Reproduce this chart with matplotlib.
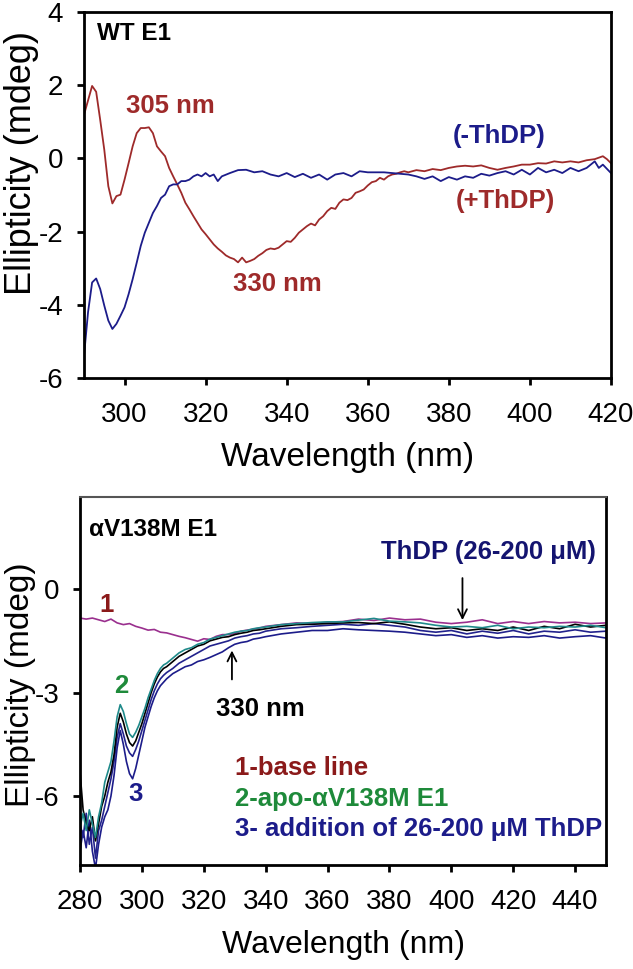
import matplotlib
matplotlib.use('Agg')
import matplotlib.pyplot as plt
import numpy as np

plt.rcParams['font.family'] = ['Liberation Sans', 'DejaVu Sans']
plt.rcParams['axes.unicode_minus'] = False

# ---- top panel: WT E1 ----
wl_plus = [290, 292, 293, 294, 295, 296, 297, 298, 299, 300, 301, 302, 303, 304, 305, 306, 307, 308, 309,
           310, 311, 312, 313, 314, 315, 316, 317, 318, 319, 320, 321, 322, 323, 324, 325, 326, 327, 328,
           329, 330, 331, 332, 333, 334, 335, 336, 337, 338, 339, 340, 341, 342, 343, 344, 345, 346, 347,
           348, 349, 350, 351, 352, 353, 354, 355, 356, 357, 358, 359, 360, 361, 362, 363, 364, 365, 366,
           367, 368, 369, 370, 372, 374, 376, 378, 380, 382, 384, 386, 388, 390, 392, 394, 396, 398, 400,
           402, 404, 406, 408, 410, 412, 414, 416, 418, 419, 420]
cd_plus = [1.19, 1.98, 1.82, 1.05, 0.24, -0.76, -1.23, -1.03, -0.99, -0.58, -0.13, 0.33, 0.69, 0.83, 0.83,
           0.85, 0.69, 0.33, 0.19, 0.06, -0.26, -0.49, -0.71, -0.94, -1.21, -1.39, -1.58, -1.76, -1.94,
           -2.07, -2.21, -2.35, -2.46, -2.55, -2.65, -2.71, -2.75, -2.84, -2.71, -2.84, -2.80, -2.75, -2.66,
           -2.59, -2.50, -2.46, -2.48, -2.44, -2.35, -2.26, -2.28, -2.17, -2.03, -1.94, -1.85, -1.78, -1.83,
           -1.67, -1.58, -1.44, -1.35, -1.38, -1.21, -1.12, -1.14, -1.08, -0.94, -0.90, -0.85, -0.74, -0.65,
           -0.62, -0.53, -0.58, -0.49, -0.44, -0.42, -0.38, -0.35, -0.38, -0.32, -0.35, -0.29, -0.32, -0.26,
           -0.22, -0.20, -0.22, -0.19, -0.26, -0.31, -0.26, -0.22, -0.17, -0.17, -0.13, -0.14, -0.08, -0.11,
           -0.08, -0.11, -0.05, -0.02, 0.06, -0.02, -0.13]

wl_minus = [290, 291, 292, 293, 294, 295, 296, 297, 298, 299, 300, 301, 302, 303, 304, 305, 306, 307, 308,
            309, 310, 311, 312, 313, 314, 315, 316, 317, 318, 319, 320, 321, 322, 323, 324, 326, 328, 330,
            332, 334, 336, 338, 340, 342, 344, 346, 348, 350, 352, 354, 356, 358, 360, 362, 364, 366, 368,
            370, 372, 374, 376, 378, 380, 382, 384, 386, 388, 390, 392, 394, 396, 398, 400, 402, 404, 406,
            408, 410, 412, 414, 416, 417, 418, 420]
cd_minus = [-5.40, -4.20, -3.39, -3.28, -3.57, -4.02, -4.43, -4.66, -4.52, -4.30, -4.07, -3.71, -3.30, -2.85,
            -2.39, -2.03, -1.76, -1.49, -1.30, -1.08, -0.99, -0.76, -0.71, -0.71, -0.62, -0.62, -0.58, -0.49,
            -0.44, -0.49, -0.40, -0.49, -0.44, -0.62, -0.49, -0.40, -0.32, -0.31, -0.38, -0.35, -0.44, -0.49,
            -0.40, -0.51, -0.42, -0.53, -0.44, -0.58, -0.44, -0.40, -0.49, -0.35, -0.38, -0.38, -0.38, -0.40,
            -0.42, -0.44, -0.49, -0.56, -0.49, -0.62, -0.51, -0.58, -0.49, -0.53, -0.42, -0.47, -0.40, -0.35,
            -0.44, -0.31, -0.44, -0.26, -0.38, -0.31, -0.40, -0.26, -0.35, -0.26, -0.08, -0.26, -0.17, -0.40]

# ---- bottom panel: aV138M E1 ----
wl_base = [280, 282, 284, 286, 288, 290, 292, 294, 296, 298, 300, 302, 304, 306, 308, 310, 312, 314, 316,
           318, 320, 322, 324, 326, 328, 330, 332, 334, 336, 338, 340, 345, 350, 355, 360, 365, 370, 375,
           380, 385, 390, 395, 400, 405, 410, 415, 420, 425, 430, 435, 440, 445, 450]
cd_base = [-0.84, -0.87, -0.84, -0.89, -0.94, -0.87, -0.98, -1.03, -1.00, -1.08, -1.13, -1.19, -1.17, -1.25,
           -1.27, -1.32, -1.37, -1.41, -1.46, -1.51, -1.44, -1.46, -1.37, -1.32, -1.32, -1.29, -1.22, -1.19,
           -1.16, -1.13, -1.08, -1.03, -0.98, -1.00, -0.96, -0.94, -0.87, -0.91, -0.84, -0.89, -0.87, -0.96,
           -1.00, -0.96, -0.89, -1.00, -0.94, -1.00, -0.94, -0.98, -0.96, -1.00, -0.98]

wl_scan = [280, 281, 282, 283, 284, 285, 286, 287, 288, 289, 290, 291, 292, 293, 294, 295, 296, 297, 298,
           299, 300, 301, 302, 303, 304, 305, 306, 307, 308, 310, 312, 314, 316, 318, 320, 322, 324, 326,
           328, 330, 332, 334, 336, 338, 340, 345, 350, 355, 360, 365, 370, 375, 380, 385, 390, 395, 400,
           405, 410, 415, 420, 425, 430, 435, 440, 445, 450]
cd_apo = [-6.9, -6.5, -7.0, -6.4, -6.8, -7.2, -6.6, -6.2, -5.6, -5.3, -5.0, -4.4, -3.7, -3.35, -3.55, -3.9,
          -4.2, -4.3, -4.15, -3.95, -3.7, -3.45, -3.15, -2.9, -2.65, -2.45, -2.3, -2.2, -2.15, -2.0, -1.85,
          -1.75, -1.7, -1.6, -1.55, -1.45, -1.4, -1.35, -1.3, -1.25, -1.22, -1.2, -1.15, -1.12, -1.1, -1.03,
          -1.0, -0.97, -0.95, -0.95, -0.9, -0.85, -0.93, -0.95, -0.98, -1.05, -1.1, -1.08, -1.12, -1.05,
          -1.15, -1.1, -1.12, -1.08, -1.1, -1.05, -1.12]
cd_thdp1 = [-5.3, -6.4, -6.8, -7.0, -6.6, -7.3, -6.8, -6.3, -6.0, -5.6, -5.3, -4.8, -4.0, -3.6, -3.85, -4.2,
            -4.45, -4.55, -4.4, -4.15, -3.9, -3.6, -3.3, -3.0, -2.75, -2.55, -2.4, -2.3, -2.25, -2.1, -1.95,
            -1.85, -1.75, -1.65, -1.6, -1.5, -1.45, -1.4, -1.38, -1.32, -1.28, -1.25, -1.2, -1.18, -1.15,
            -1.08, -1.03, -1.02, -1.0, -0.98, -0.97, -1.0, -0.95, -1.02, -1.1, -1.15, -1.12, -1.2, -1.15,
            -1.2, -1.1, -1.2, -1.08, -1.15, -1.02, -1.1, -1.05]
cd_thdp2 = [-6.8, -7.2, -6.5, -7.4, -6.9, -7.8, -7.0, -6.7, -6.3, -5.9, -5.5, -5.0, -4.3, -3.9, -4.2, -4.55,
            -4.75, -4.85, -4.65, -4.4, -4.1, -3.8, -3.5, -3.2, -2.95, -2.75, -2.6, -2.5, -2.42, -2.3, -2.15,
            -2.05, -1.95, -1.85, -1.75, -1.65, -1.6, -1.55, -1.5, -1.42, -1.38, -1.35, -1.3, -1.28, -1.22,
            -1.15, -1.12, -1.08, -1.05, -1.02, -1.05, -1.0, -1.05, -1.1, -1.2, -1.25, -1.2, -1.3, -1.22,
            -1.28, -1.2, -1.3, -1.22, -1.25, -1.18, -1.25, -1.22]
cd_thdp3 = [-7.6, -7.0, -7.5, -6.7, -7.6, -8.1, -7.4, -6.9, -6.6, -6.4, -6.0, -5.4, -4.6, -4.1, -4.5, -5.0,
            -5.35, -5.5, -5.2, -4.8, -4.4, -4.0, -3.7, -3.4, -3.15, -2.95, -2.8, -2.7, -2.6, -2.45, -2.35,
            -2.25, -2.2, -2.1, -2.05, -1.98, -1.9, -1.82, -1.7, -1.6, -1.55, -1.52, -1.45, -1.42, -1.38,
            -1.3, -1.25, -1.2, -1.2, -1.15, -1.18, -1.2, -1.22, -1.25, -1.3, -1.35, -1.32, -1.4, -1.35,
            -1.42, -1.38, -1.4, -1.35, -1.42, -1.38, -1.35, -1.42]

red = '#9e2a2a'
navy = '#1c1c8a'
fs = 18.5

fig = plt.figure(figsize=(6.33, 9.69), dpi=100)
ax1 = fig.add_axes([0.1327, 0.6099, 0.8325, 0.3777])
ax2 = fig.add_axes([0.1264, 0.1073, 0.8310, 0.3798])

for ax in (ax1, ax2):
    for s in ax.spines.values():
        s.set_linewidth(2.0)
    ax.tick_params(direction='out', length=5, width=2, labelsize=20, top=False, right=False)
    ax.tick_params(axis='x', pad=12)
    ax.tick_params(axis='y', pad=10)

# top
ax1.plot(wl_plus, cd_plus, color=red, lw=1.3)
ax1.plot(wl_minus, cd_minus, color=navy, lw=1.3)
ax1.set_xlim(290, 420)
ax1.set_ylim(-6, 4)
ax1.set_xticks(np.arange(300, 421, 20))
ax1.set_yticks(np.arange(-6, 5, 2))
ax1.set_xlabel('Wavelength (nm)', fontsize=24, labelpad=10)
ax1.set_ylabel('Ellipticity (mdeg)', fontsize=26)
ax1.yaxis.set_label_coords(-0.085, 0.587)
ax1.text(293.2, 3.41, 'WT E1', fontsize=17.5, fontweight='bold', ha='left', va='center')
ax1.text(311.3, 1.43, '305 nm', fontsize=fs, fontweight='bold', color=red, ha='center', va='center')
ax1.text(337.8, -3.43, '330 nm', fontsize=fs, fontweight='bold', color=red, ha='center', va='center')
ax1.text(392.3, 0.60, '(-ThDP)', fontsize=fs, fontweight='bold', color=navy, ha='center', va='center')
ax1.text(394.0, -1.17, '(+ThDP)', fontsize=fs, fontweight='bold', color=red, ha='center', va='center')

# bottom
ax2.plot(wl_base, cd_base, color='#9a2f8e', lw=1.2)
ax2.plot(wl_scan, cd_thdp3, color=navy, lw=1.2)
ax2.plot(wl_scan, cd_thdp2, color='#22228c', lw=1.2)
ax2.plot(wl_scan, cd_thdp1, color='black', lw=1.2)
ax2.plot(wl_scan, cd_apo, color='#1f8a8a', lw=1.2)
ax2.set_xlim(280, 450)
ax2.set_ylim(-8, 2.67)
ax2.set_xticks(np.arange(280, 441, 20))
ax2.set_yticks([-6, -3, 0])
ax2.spines['top'].set_linewidth(1.5)
ax2.spines['top'].set_color('#555555')
ax2.set_xlabel('Wavelength (nm)', fontsize=23, labelpad=11)
ax2.set_ylabel('Ellipticity (mdeg)', fontsize=24)
ax2.yaxis.set_label_coords(-0.083, 0.49)

ax2.text(282.9, 1.74, 'αV138M E1', fontsize=17.5, fontweight='bold', ha='left', va='center')
ax2.text(446.8, 1.07, 'ThDP (26-200 μM)', fontsize=fs, fontweight='bold', color='#141470',
         ha='right', va='center')
ax2.annotate('', xy=(403.6, -0.98), xytext=(403.6, 0.4),
             arrowprops=dict(arrowstyle='->', lw=1.3, color='black', mutation_scale=16))
ax2.annotate('', xy=(329.1, -1.7), xytext=(329.1, -2.7),
             arrowprops=dict(arrowstyle='->', lw=1.3, color='black', mutation_scale=16))
ax2.text(338.3, -3.47, '330 nm', fontsize=fs, fontweight='bold', ha='center', va='center')
ax2.text(288.5, -0.46, '1', fontsize=fs, fontweight='bold', color='#8b1a1a', ha='center', va='center')
ax2.text(293.4, -2.80, '2', fontsize=fs, fontweight='bold', color='#1e8a3a', ha='center', va='center')
ax2.text(297.9, -5.95, '3', fontsize=fs, fontweight='bold', color=navy, ha='center', va='center')
ax2.text(330.0, -5.19, '1-base line', fontsize=fs, fontweight='bold', color='#8b1a1a', ha='left', va='center')
ax2.text(330.0, -6.09, '2-apo-αV138M E1', fontsize=fs, fontweight='bold', color='#1e8a3a',
         ha='left', va='center')
ax2.text(330.0, -6.95, '3- addition of 26-200 μM ThDP', fontsize=fs, fontweight='bold', color=navy,
         ha='left', va='center')

fig.savefig('out.png', dpi=100)
